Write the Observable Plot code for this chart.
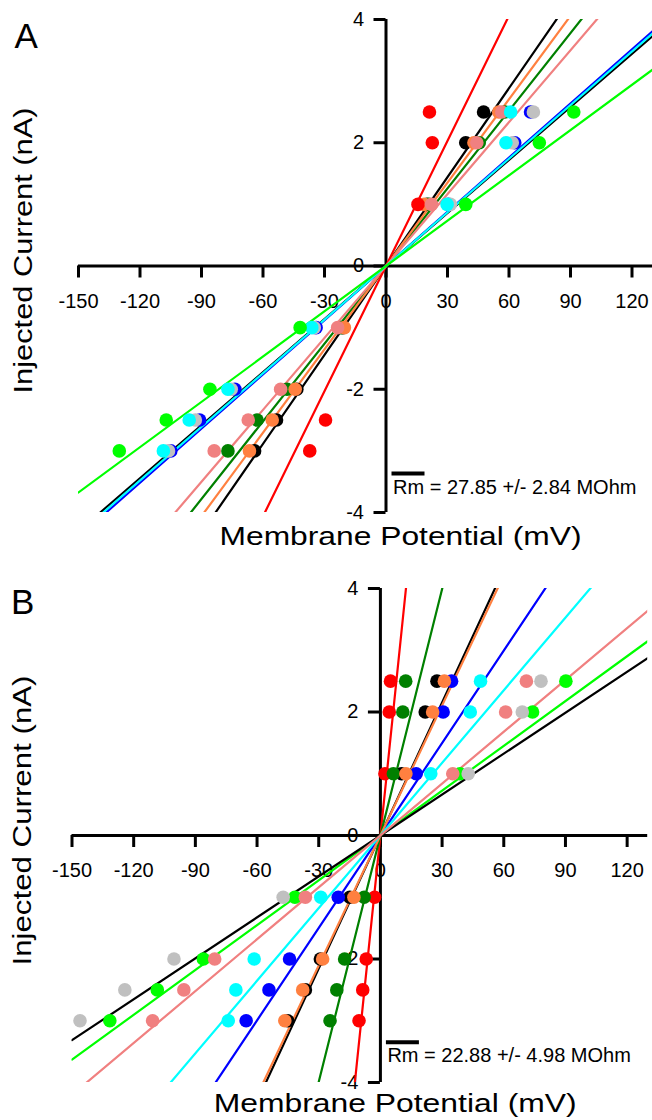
<!DOCTYPE html>
<html><head><meta charset="utf-8">
<script src="https://cdn.jsdelivr.net/npm/d3@7"></script>
<script src="https://cdn.jsdelivr.net/npm/@observablehq/plot@0.6"></script>
<style>
body{margin:0;background:#fff;}
#chart{width:652px;}
#chart svg{display:block;}
</style></head><body><div id="chart"></div>
<script>
// ---------- data ----------
const currents = [-3, -2.5, -2, -1, 1, 2, 2.5];           // injected current levels (nA)
const xTicks = [-150, -120, -90, -60, -30, 0, 30, 60, 90, 120];
const xTickLabels = ["-150", "-120", "-90", "-60", "-30", "0", "30", "60", "90", "120"];
const yTicks = [-4, -2, 0, 2, 4];
const yTickLabels = ["-4", "-2", "0", "2", "4"];
const xDomain = [-150, 130];
const yDomain = [-4, 4];
const xTitle = "Membrane Potential (mV)";
const yTitle = "Injected Current (nA)";

// Panel A: series (draw order), fitted slopes (nA/mV), membrane potentials (mV) per current level
const seriesA = ["black", "blue", "gray", "dkgreen", "orange", "red", "salmon", "cyan", "lime"];
const slopeA = [0.0481, 0.0293, 0.0287, 0.0420, 0.0451, 0.0677, 0.0389, 0.0290, 0.0245];
const vA_black   = [-64.1, -53.4, -43.5, -21.0, 20.0, 38.9, 47.6];
const vA_blue    = [-105.0, -90.9, -73.7, -34.1, 30.5, 62.8, 70.5];
const vA_gray    = [-106.1, -93.0, -75.5, -35.0, 31.4, 61.6, 71.9];
const vA_dkgreen = [-77.1, -62.9, -48.3, -22.0, 21.0, 45.5, 58.0];
const vA_orange  = [-66.6, -55.5, -44.3, -20.3, 18.6, 42.9, 55.0];
const vA_red     = [-37.2, -29.5, null, null, 15.6, 22.6, 21.2];
const vA_salmon  = [-83.8, -67.2, -51.4, -23.6, 22.2, 44.3, 56.5];
const vA_cyan    = [-108.6, -96.0, -77.1, -36.2, 29.8, 58.5, 60.8];
const vA_lime    = [-130.1, -107.2, -85.9, -41.9, 38.9, 74.8, 91.6];
const rmA = "Rm = 27.85 +/- 2.84 MOhm";

// Panel B
const seriesB = ["lime", "red", "black", "blue", "dkgreen", "orange", "cyan", "gray", "salmon"];
const slopeB = [0.0242, 0.322, 0.0718, 0.0499, 0.133, 0.0702, 0.0392, 0.0221, 0.0280];
const vB_lime    = [-131.6, -108.5, -86.1, -41.6, 38.7, 74.0, 90.2];
const vB_red     = [-10.4, -8.6, -6.9, -2.8, 2.2, 4.3, 4.9];
const vB_black   = [-45.1, -36.5, -29.2, -14.9, 10.3, 21.8, 27.5];
const vB_blue    = [-65.3, -54.2, -44.2, -20.5, 17.4, 30.5, 34.6];
const vB_dkgreen = [-24.5, -21.2, -17.4, -7.9, 6.3, 10.9, 12.3];
const vB_orange  = [-46.5, -37.8, -28.1, -12.9, 12.4, 25.4, 31.1];
const vB_cyan    = [-74.0, -70.3, -61.4, -29.0, 24.5, 43.7, 48.7];
const vB_gray    = [-146.1, -124.3, -100.4, -47.3, 42.7, 69.0, 78.1];
const vB_salmon  = [-110.8, -95.6, -80.6, -36.5, 35.2, 60.9, 71.0];
const rmB = "Rm = 22.88 +/- 4.98 MOhm";

// ---------- styles ----------
const dotColor = {black: "#000000", blue: "#0000ff", gray: "#c0c0c0", dkgreen: "#008000",
  orange: "#ff8040", red: "#ff0000", salmon: "#f08080", cyan: "#00ffff", lime: "#00ff00"};
const lineColor = {...dotColor, gray: "#000000"};
const FONT = "'Liberation Sans', Arial, Helvetica, sans-serif";

function panel(letter, series, slopes, volts, rm, L) {
  const points = [];
  series.forEach((s, k) => volts[k].forEach((v, i) => {
    if (v != null) points.push({series: s, v, i: currents[i]});
  }));
  const lines = series.flatMap((s, k) => xDomain.map(x => ({series: s, v: x, i: slopes[k] * x})));

  const svg = Plot.plot({
    width: 652, height: 560,
    marginTop: L.mt, marginBottom: L.mb, marginLeft: L.ml, marginRight: L.mr,
    x: {domain: xDomain, axis: null},
    y: {domain: yDomain, axis: null},
    color: {type: "identity"},
    style: {fontFamily: FONT, background: "#fff", overflow: "visible"},
    marks: [
      Plot.text(xTicks, {x: d => d, y: () => 0, text: (d, i) => xTickLabels[i], dy: L.xlab, fontSize: 20, fill: "#000"}),
      Plot.text(yTicks, {x: () => 0, y: d => d, text: (d, i) => yTickLabels[i], textAnchor: "end", dx: -22, fontSize: 20, fill: "#000"}),
      Plot.ruleY([0], {x1: () => xDomain[0], x2: () => xDomain[1], strokeWidth: 3}),
      Plot.ruleX([0], {y1: () => yDomain[0], y2: () => yDomain[1], strokeWidth: 3}),
      Plot.ruleX(xTicks, {x: d => d, y1: () => 0, y2: () => 0, insetBottom: -12, strokeWidth: 3}),
      Plot.ruleY(yTicks, {y: d => d, x1: () => 0, x2: () => 0, insetLeft: -12, strokeWidth: 3}),
      Plot.line(lines, {x: "v", y: "i", z: "series", stroke: d => lineColor[d.series], strokeWidth: 2.2, clip: true}),
      Plot.dot(points, {x: "v", y: "i", r: 6.8, fill: d => dotColor[d.series], stroke: "none"}),
      Plot.text([rm], {x: () => 0, frameAnchor: "bottom", textAnchor: "start", lineAnchor: "middle", dx: L.rmdx, dy: L.rmdy, fontSize: 20, fill: "#000"}),
      Plot.ruleY([yDomain[0]], {x1: () => 0, x2: () => 0, dx: L.rmdx - 1, insetRight: -33, dy: L.oldy, strokeWidth: 4}),
      Plot.text([letter], {frameAnchor: "top-left", lineAnchor: "top", textAnchor: "start", dx: L.ldx, dy: L.ldy, fontSize: 35, fill: "#000"}),
      Plot.text([xTitle], {frameAnchor: "bottom", textAnchor: "middle", lineAnchor: "middle", dx: L.xtdx, dy: L.xtdy, fontSize: 25, fill: "#000"}),
      Plot.text([yTitle], {frameAnchor: "left", textAnchor: "middle", lineAnchor: "middle", rotate: -90, dx: L.ytdx, dy: L.ytdy, fontSize: 25, fill: "#000"})
    ]
  });
  d3.select(svg).selectAll("text").each(function () {
    const t = this.textContent;
    if (t === xTitle) d3.select(this).attr("textLength", L.xtlen).attr("lengthAdjust", "spacingAndGlyphs");
    if (t === yTitle) d3.select(this).attr("textLength", L.ytlen).attr("lengthAdjust", "spacingAndGlyphs");
  });
  return svg;
}

const layoutA = {mt: 19, mb: 48, ml: 78, mr: 0, xlab: 36, rmdx: 7, rmdy: -25.4, oldy: -39,
  ldx: -64, ldy: 4, xtdx: 35, xtdy: 24, xtlen: 362, ytdx: -54.3, ytdy: -15.5, ytlen: 286};
const layoutB = {mt: 28, mb: 38, ml: 71.5, mr: 4.8, xlab: 35, rmdx: 7, rmdy: -26.7, oldy: -40.3,
  ldx: -61, ldy: 1, xtdx: 35.3, xtdy: 21, xtlen: 363, ytdx: -48.8, ytdy: -15, ytlen: 290};

const chart = document.getElementById("chart");
chart.append(panel("A", seriesA, slopeA,
  [vA_black, vA_blue, vA_gray, vA_dkgreen, vA_orange, vA_red, vA_salmon, vA_cyan, vA_lime], rmA, layoutA));
chart.append(panel("B", seriesB, slopeB,
  [vB_lime, vB_red, vB_black, vB_blue, vB_dkgreen, vB_orange, vB_cyan, vB_gray, vB_salmon], rmB, layoutB));
</script></body></html>
